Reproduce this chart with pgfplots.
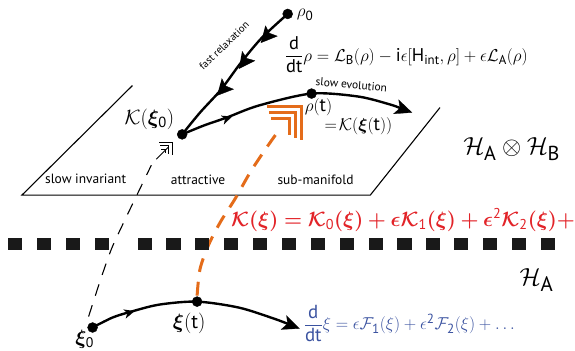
\documentclass[border=0pt]{standalone}
\usepackage{amsmath,bm}
\usepackage{fontspec}
\setmainfont{PT Sans}
\usepackage{pgfplots}
\pgfplotsset{compat=1.18}
\definecolor{myorange}{RGB}{228,108,26}
\definecolor{myred}{RGB}{226,35,40}
\definecolor{myblue}{RGB}{58,82,160}
\newcommand{\tx}[1]{\text{#1}}
\begin{document}
\begin{tikzpicture}
\begin{axis}[
  at={(0,0)}, anchor=origin,
  x=1pt, y=1pt, y dir=reverse,
  xmin=0, xmax=575, ymin=0, ymax=352,
  hide axis, clip=false,
]
\addplot[draw=none] coordinates {(0,0)(575,352)};
% plane
\addplot[black, line width=1.1pt, line join=miter] coordinates {(133,86)(22,196)(372,196)(442,108)};
% dotted separator
\addplot[only marks, mark=square*, mark size=5.5pt, black!90, mark options={xscale=1.2, draw=none}] coordinates {(15,244.5)(44,244.5)(73,244.5)(102,244.5)(145,244.5)(174,244.5)(203,244.5)(232,244.5)(261,244.5)(290,244.5)(319,244.5)(348,244.5)(377,244.5)(406,244.5)(435,244.5)(463,244.5)(492,244.5)(521,244.5)(550,244.5)};
% black dashed
\addplot[smooth, black, line width=1.1pt, dash pattern=on 12pt off 10pt] coordinates {(89,318)(101,281)(112,250)(124,224)(137,197)(152,166)};
% orange dashed
\addplot[smooth, myorange, line width=3pt, dash pattern=on 14pt off 10pt] coordinates {(198,297)(201,270)(210,245)(222,222)(236,200)(252,172)(268,148)(280,131)};
% orange chevrons
\addplot[myorange, line width=2.6pt, line join=miter] coordinates {(268,107)(303,107)(303,141)};
\addplot[myorange, line width=2.6pt, line join=miter] coordinates {(270,113)(297,113)(297,139)};
\addplot[myorange, line width=2.6pt, line join=miter] coordinates {(272,119)(291,119)(291,136)};
% small black chevrons
\addplot[black, line width=0.8pt, line join=miter] coordinates {(160,143)(173,143)(173,156)};
\addplot[black, line width=0.8pt, line join=miter] coordinates {(161,146.5)(169.5,146.5)(169.5,155)};
\addplot[black, line width=0.8pt, line join=miter] coordinates {(162,150)(166,150)(166,154)};
\addplot[black, line width=0.9pt] coordinates {(157,160)(169,148)};
% fast relaxation
\addplot[smooth, black, line width=2.4pt] coordinates {(289,14)(263,38)(242,63)(222,90)(201,113)(183,135)};
\addplot[fill=black, draw=black, line width=0.3pt, line join=miter] coordinates {(262,43)(278.6,36.3)(270.6,33.3)(266.6,25.7)};
\addplot[fill=black, draw=black, line width=0.3pt, line join=miter] coordinates {(240,69)(256,61)(247.8,58.6)(243.2,51.4)};
\addplot[fill=black, draw=black, line width=0.3pt, line join=miter] coordinates {(218,96)(234.6,89.6)(226.7,86.4)(222.8,78.8)};
% slow evolution
\addplot[smooth, black, line width=2.4pt] coordinates {(183,135)(205,126)(228,118)(260,106)(313,94)(360,97)(392,105)(402,108.6)};
\addplot[fill=black, draw=black, line width=0.3pt, line join=miter] coordinates {(414,113)(395.45,114.25)(401.8,108.6)(400.55,100.15)};
\addplot[fill=black, draw=black, line width=0.3pt, line join=miter] coordinates {(233,117)(225.1,124.6)(226.4,119.4)(222.1,116.2)};
% bottom curve
\addplot[smooth, black, line width=2.4pt] coordinates {(93,329)(113,319)(132,313)(160,306)(198,303)(240,309)(275,320)(289,325.3)};
\addplot[fill=black, draw=black, line width=0.3pt, line join=miter] coordinates {(301,330)(282.5,330.9)(288.9,325.3)(287.9,316.9)};
\addplot[fill=black, draw=black, line width=0.3pt, line join=miter] coordinates {(135,312.5)(126.6,319.5)(128.3,314.4)(124.2,310.9)};
% dots
\addplot[only marks, mark=*, mark size=5pt, black] coordinates {(289,14)(183,135)(313,94)(93,329)(198,303)};
% texts
\node[anchor=west, inner sep=0pt] at (axis cs:298,15) {\fontsize{19}{22}\selectfont $\rho_{\tx{0}}$};
\node[rotate=44, inner sep=0pt] at (axis cs:225,46) {\fontsize{10.5}{12}\selectfont fast relaxation};
\node[anchor=west, inner sep=0pt] at (axis cs:286,55) {\fontsize{18.5}{21}\selectfont $\dfrac{\tx{d}}{\tx{dt}}\rho=\mathcal{L}_{\tx{B}}(\rho)-\tx{i}\epsilon\lbrack\tx{H}_{\tx{int}},\rho\rbrack+\epsilon\mathcal{L}_{\tx{A}}(\rho)$};
\node[rotate=-5, inner sep=0pt] at (axis cs:353,85) {\fontsize{11.5}{13}\selectfont slow evolution};
\node[inner sep=0pt] at (axis cs:320,108) {\fontsize{19}{22}\selectfont $\rho(\tx{t})$};
\node[inner sep=0pt] at (axis cs:360,127) {\fontsize{19}{22}\selectfont $=\!\mathcal{K}(\bm{\xi}(\tx{t}))$};
\node[inner sep=0pt] at (axis cs:150,120) {\fontsize{21}{24}\selectfont $\mathcal{K}(\bm{\xi}_{\tx{0}})$};
\node[inner sep=0pt] at (axis cs:514,150) {\fontsize{29}{32}\selectfont $\mathcal{H}_{\tx{A}}\otimes\mathcal{H}_{\tx{B}}$};
\node[inner sep=0pt] at (axis cs:86,180) {\fontsize{13.5}{15}\selectfont slow invariant};
\node[inner sep=0pt] at (axis cs:199,181) {\fontsize{13.5}{15}\selectfont attractive};
\node[inner sep=0pt] at (axis cs:317,181) {\fontsize{13.5}{15}\selectfont sub-manifold};
\node[anchor=west, inner sep=0pt, text=myred] at (axis cs:232,221) {\fontsize{20.5}{23}\selectfont $\bm{\mathcal{K}(\xi)=\mathcal{K}_{\tx{0}}(\xi)+\epsilon\mathcal{K}_{\tx{1}}(\xi)+\epsilon^{\tx{2}}\mathcal{K}_{\tx{2}}(\xi)+}$};
\node[inner sep=0pt] at (axis cs:539,281) {\fontsize{30}{33}\selectfont $\mathcal{H}_{\tx{A}}$};
\node[inner sep=0pt] at (axis cs:85,341) {\fontsize{20}{23}\selectfont $\bm{\xi}_{\tx{0}}$};
\node[inner sep=0pt] at (axis cs:190,325) {\fontsize{20}{23}\selectfont $\bm{\xi}(\tx{t})$};
\node[anchor=west, inner sep=0pt, text=myblue] at (axis cs:305,325) {\fontsize{19}{22}\selectfont $\dfrac{\tx{d}}{\tx{dt}}\xi=\epsilon\mathcal{F}_{\tx{1}}(\xi)+\epsilon^{\tx{2}}\mathcal{F}_{\tx{2}}(\xi)+\ldots$};
\end{axis}
\end{tikzpicture}
\end{document}
